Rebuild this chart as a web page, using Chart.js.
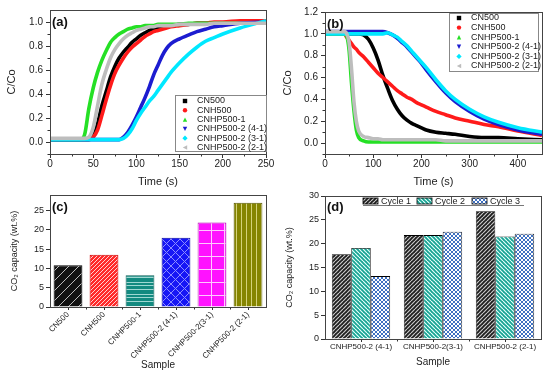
<!DOCTYPE html>
<html>
<head>
<meta charset="utf-8">
<script src="https://cdn.jsdelivr.net/npm/chart.js@4.4.1/dist/chart.umd.min.js"></script>
<style>
  html, body { margin: 0; padding: 0; background: #fff; }
  #fig { position: relative; width: 550px; height: 377px; overflow: hidden; }
  canvas { position: absolute; }
</style>
</head>
<body>
<div id="fig">
  <canvas id="chartA" width="275" height="190" style="left:0;top:0"></canvas>
  <canvas id="chartB" width="275" height="190" style="left:275px;top:0"></canvas>
  <canvas id="chartC" width="275" height="192" style="left:0;top:185px"></canvas>
  <canvas id="chartD" width="275" height="192" style="left:275px;top:185px"></canvas>
</div>
<script>
/* ---- data: (a) breakthrough ---- */
var timeA = [0, 30, 35, 40, 45, 50, 55, 60, 65, 70, 75, 80, 85, 90, 95, 100, 105, 110, 115, 120, 125, 130, 135, 140, 150, 160, 170, 180, 190, 200, 220, 250];
var cn500A = [0.02, 0.02, 0.02, 0.02, 0.02, 0.05, 0.15, 0.30, 0.42, 0.54, 0.63, 0.70, 0.75, 0.79, 0.83, 0.86, 0.89, 0.91, 0.93, 0.94, 0.95, 0.96, 0.97, 0.97, 0.98, 0.98, 0.99, 0.99, 0.99, 0.99, 1.00, 1.00];
var cnh500A = [0.02, 0.02, 0.02, 0.02, 0.02, 0.04, 0.10, 0.22, 0.35, 0.47, 0.57, 0.64, 0.70, 0.75, 0.79, 0.82, 0.85, 0.88, 0.90, 0.92, 0.93, 0.94, 0.95, 0.96, 0.97, 0.98, 0.99, 0.99, 1.00, 1.00, 1.01, 1.01];
var cnhp1A = [0.02, 0.02, 0.02, 0.06, 0.28, 0.45, 0.58, 0.68, 0.76, 0.83, 0.87, 0.90, 0.92, 0.94, 0.95, 0.96, 0.96, 0.97, 0.97, 0.97, 0.98, 0.98, 0.98, 0.98, 0.98, 0.99, 0.99, 0.99, 0.99, 0.99, 0.99, 0.99];
var cnhp41A = [0.02, 0.02, 0.02, 0.02, 0.02, 0.02, 0.02, 0.02, 0.02, 0.02, 0.02, 0.02, 0.04, 0.08, 0.14, 0.21, 0.29, 0.37, 0.46, 0.56, 0.64, 0.72, 0.78, 0.82, 0.86, 0.89, 0.92, 0.94, 0.96, 0.97, 0.99, 1.00];
var cnhp31A = [0.02, 0.02, 0.02, 0.02, 0.02, 0.02, 0.02, 0.02, 0.02, 0.02, 0.02, 0.02, 0.03, 0.06, 0.11, 0.18, 0.24, 0.29, 0.34, 0.38, 0.43, 0.48, 0.53, 0.58, 0.66, 0.73, 0.79, 0.84, 0.87, 0.90, 0.95, 1.01];
var cnhp21A = [0.03, 0.03, 0.03, 0.03, 0.04, 0.12, 0.30, 0.48, 0.60, 0.70, 0.77, 0.82, 0.86, 0.89, 0.91, 0.93, 0.94, 0.95, 0.96, 0.96, 0.97, 0.97, 0.97, 0.97, 0.98, 0.98, 0.98, 0.98, 0.99, 0.99, 0.99, 0.99];
var xTicksA = [0, 50, 100, 150, 200, 250];
var yTicksA = [0, 0.2, 0.4, 0.6, 0.8, 1.0];

/* ---- data: (b) desorption ---- */
var timeB = [0, 40, 45, 50, 55, 60, 65, 70, 80, 90, 100, 110, 120, 130, 140, 150, 160, 170, 180, 190, 200, 210, 230, 250, 270, 300, 330, 360, 400, 450];
var cn500B = [1.00, 1.00, 1.00, 1.00, 1.00, 1.00, 1.00, 1.00, 0.99, 0.95, 0.87, 0.76, 0.62, 0.50, 0.39, 0.31, 0.25, 0.21, 0.18, 0.16, 0.14, 0.12, 0.10, 0.09, 0.08, 0.06, 0.05, 0.05, 0.04, 0.03];
var cnh500B = [1.00, 1.00, 0.97, 0.94, 0.91, 0.88, 0.86, 0.83, 0.79, 0.74, 0.69, 0.64, 0.60, 0.56, 0.52, 0.48, 0.45, 0.42, 0.40, 0.37, 0.35, 0.33, 0.29, 0.26, 0.23, 0.20, 0.17, 0.15, 0.11, 0.07];
var cnhp1B = [1.00, 1.00, 0.98, 0.85, 0.55, 0.30, 0.12, 0.05, 0.02, 0.01, 0.01, 0.01, 0.01, 0.01, 0.01, 0.01, 0.01, 0.01, 0.01, 0.01, 0.01, 0.01, 0.01, 0.01, 0.01, 0.01, 0.01, 0.01, 0.01, 0.01];
var cnhp41B = [1.02, 1.02, 1.02, 1.02, 1.02, 1.02, 1.02, 1.02, 1.02, 1.02, 1.02, 1.02, 1.02, 1.01, 0.99, 0.96, 0.92, 0.88, 0.83, 0.78, 0.73, 0.67, 0.56, 0.46, 0.38, 0.29, 0.22, 0.17, 0.12, 0.08];
var cnhp31B = [1.00, 1.00, 1.00, 1.00, 1.00, 1.00, 1.00, 1.00, 1.00, 1.00, 1.00, 1.00, 1.00, 1.01, 0.99, 0.97, 0.93, 0.89, 0.84, 0.79, 0.74, 0.69, 0.58, 0.48, 0.40, 0.31, 0.24, 0.19, 0.14, 0.10];
var cnhp21B = [1.02, 1.02, 1.00, 0.92, 0.68, 0.38, 0.20, 0.11, 0.06, 0.05, 0.04, 0.04, 0.03, 0.03, 0.03, 0.03, 0.03, 0.03, 0.03, 0.03, 0.03, 0.03, 0.03, 0.02, 0.02, 0.02, 0.02, 0.02, 0.02, 0.02];
var xTicksB = [0, 100, 200, 300, 400];
var yTicksB = [0, 0.2, 0.4, 0.6, 0.8, 1.0, 1.2];

/* ---- data: (c) capacity ---- */
var samplesC = ["CN500", "CNH500", "CNHP500-1", "CNHP500-2 (4-1)", "CNHP500-2(3-1)", "CNHP500-2 (2-1)"];
var capacityC = [10.8, 13.5, 8.2, 17.9, 21.9, 27.0];
var yTicksC = [0, 5, 10, 15, 20, 25];

/* ---- data: (d) cycles ---- */
var samplesD = ["CNHP500-2 (4-1)", "CNHP500-2(3-1)", "CNHP500-2 (2-1)"];
var cycle1D = [17.8, 21.8, 26.8];
var cycle2D = [19.1, 21.8, 21.5];
var cycle3D = [13.2, 22.5, 22.1];
var yTicksD = [0, 5, 10, 15, 20, 25, 30];

var seriesNames = ["CN500", "CNH500", "CNHP500-1", "CNHP500-2 (4-1)", "CNHP500-2 (3-1)", "CNHP500-2 (2-1)"];
var seriesColors = ["#000000", "#ff1a1a", "#25e025", "#1c1cd0", "#00e8ff", "#bdbdbd"];
var seriesMarkers = ["square", "circle", "triUp", "triDown", "diamond", "triLeft"];

var FONT = '"Liberation Sans", Arial, sans-serif';
var INK = "#222";

/* ---- helpers ---- */
function fixedTicks(list) {
  return function (scale) {
    scale.ticks = list.map(function (v) { return { value: v }; });
  };
}

// minor ticks halfway between the major ones
function halfway(list) {
  var out = [];
  for (var i = 0; i < list.length - 1; i++) out.push((list[i] + list[i + 1]) / 2);
  return out;
}

function fitX(h) {
  return function (scale) {
    scale.height = h;
    scale.paddingLeft = 0;
    scale.paddingRight = 0;
  };
}

function fitY(w) {
  return function (scale) {
    scale.width = w;
    scale.paddingTop = 0;
    scale.paddingBottom = 0;
  };
}

function drawMarker(ctx, kind, x, y, r, color) {
  ctx.save();
  ctx.fillStyle = color;
  ctx.beginPath();
  if (kind === "square") {
    ctx.rect(x - r, y - r, 2 * r, 2 * r);
  } else if (kind === "circle") {
    ctx.arc(x, y, r, 0, Math.PI * 2);
  } else if (kind === "triUp") {
    ctx.moveTo(x, y - r); ctx.lineTo(x + r, y + r); ctx.lineTo(x - r, y + r);
  } else if (kind === "triDown") {
    ctx.moveTo(x, y + r); ctx.lineTo(x + r, y - r); ctx.lineTo(x - r, y - r);
  } else if (kind === "diamond") {
    ctx.moveTo(x, y - r * 1.2); ctx.lineTo(x + r * 1.2, y); ctx.lineTo(x, y + r * 1.2); ctx.lineTo(x - r * 1.2, y);
  } else if (kind === "triLeft") {
    ctx.moveTo(x - r, y); ctx.lineTo(x + r, y - r); ctx.lineTo(x + r, y + r);
  }
  ctx.closePath();
  ctx.fill();
  ctx.restore();
}

function makePattern(bg, fg, kind, size, lw) {
  var c = document.createElement("canvas");
  c.width = size;
  c.height = size;
  var g = c.getContext("2d");
  g.fillStyle = bg;
  g.fillRect(0, 0, size, size);
  g.strokeStyle = fg;
  g.fillStyle = fg;
  g.lineWidth = lw || 1;
  var k;
  if (kind === "up" || kind === "cross") {
    for (k = -1; k <= 1; k++) {
      g.beginPath(); g.moveTo(k * size, size); g.lineTo(k * size + size, 0); g.stroke();
    }
  }
  if (kind === "down" || kind === "cross") {
    for (k = -1; k <= 1; k++) {
      g.beginPath(); g.moveTo(k * size, 0); g.lineTo(k * size + size, size); g.stroke();
    }
  }
  if (kind === "horiz") {
    [1.5, 4.5, 8.5].forEach(function (yy) {
      g.beginPath(); g.moveTo(0, yy); g.lineTo(size, yy); g.stroke();
    });
  }
  if (kind === "grid") {
    g.beginPath(); g.moveTo(3.5, 0); g.lineTo(3.5, size); g.stroke();
    g.beginPath(); g.moveTo(0, 6.5); g.lineTo(size, 6.5); g.stroke();
  }
  if (kind === "vert") {
    g.beginPath(); g.moveTo(1.5, 0); g.lineTo(1.5, size); g.stroke();
  }
  if (kind === "checker") {
    var h = size / 2;
    g.fillRect(0, 0, h, h);
    g.fillRect(h, h, h, h);
  }
  return c.getContext("2d").createPattern(c, "repeat");
}

/* frame around plot area, short minor ticks, panel letter */
var framePlugin = {
  id: "frame",
  afterDraw: function (chart, args, opts) {
    var a = chart.chartArea;
    var ctx = chart.ctx;
    ctx.save();
    ctx.strokeStyle = "#333";
    ctx.lineWidth = 1;
    (opts.minorX || []).forEach(function (v) {
      var px = Math.round(chart.scales.x.getPixelForValue(v)) + 0.5;
      ctx.beginPath(); ctx.moveTo(px, a.bottom); ctx.lineTo(px, a.bottom + 2.5); ctx.stroke();
    });
    (opts.minorY || []).forEach(function (v) {
      var py = Math.round(chart.scales.y.getPixelForValue(v)) + 0.5;
      ctx.beginPath(); ctx.moveTo(a.left, py); ctx.lineTo(a.left - 2.5, py); ctx.stroke();
    });
    ctx.strokeStyle = "#444";
    ctx.strokeRect(Math.round(a.left) + 0.5, Math.round(a.top) + 0.5, Math.round(a.right - a.left), Math.round(a.bottom - a.top));
    if (opts.letter) {
      ctx.fillStyle = "#111";
      ctx.font = "bold 13px " + FONT;
      ctx.textBaseline = "alphabetic";
      ctx.fillText(opts.letter, a.left + 2, a.top + opts.letterDy);
    }
    ctx.restore();
  }
};

/* boxed legend inside the plot for the curve panels */
var curveLegendPlugin = {
  id: "curveLegend",
  afterDraw: function (chart, args, opts) {
    if (!opts.box) return;
    var ctx = chart.ctx;
    var b = opts.box;
    ctx.save();
    ctx.fillStyle = "#fff";
    ctx.fillRect(b[0], b[1], b[2], b[3]);
    ctx.strokeStyle = "#888";
    ctx.lineWidth = 1;
    ctx.strokeRect(b[0] + 0.5, b[1] + 0.5, b[2], b[3]);
    ctx.font = "9px " + FONT;
    ctx.textBaseline = "middle";
    chart.data.datasets.forEach(function (ds, i) {
      var y = b[1] + opts.first + i * opts.row;
      drawMarker(ctx, ds.marker, b[0] + opts.markX, y, 2.2, ds.borderColor);
      ctx.fillStyle = "#222";
      ctx.fillText(ds.label, b[0] + opts.textX, y);
    });
    ctx.restore();
  }
};

/* one-row legend with pattern swatches for panel (d) */
var barLegendPlugin = {
  id: "barLegend",
  afterDraw: function (chart, args, opts) {
    if (!opts.items) return;
    var ctx = chart.ctx;
    ctx.save();
    ctx.font = "9px " + FONT;
    ctx.textBaseline = "middle";
    chart.data.datasets.forEach(function (ds, i) {
      var x = opts.items[i];
      ctx.fillStyle = ds.backgroundColor;
      ctx.fillRect(x, opts.y - 3, 15, 6);
      ctx.strokeStyle = "#000";
      ctx.lineWidth = 0.8;
      ctx.strokeRect(x, opts.y - 3, 15, 6);
      ctx.fillStyle = "#222";
      ctx.fillText(ds.label, x + 18, opts.y + 0.5);
    });
    ctx.strokeStyle = "#555";
    ctx.beginPath();
    ctx.moveTo(opts.items[0], opts.y + 4.5);
    ctx.lineTo(opts.underlineEnd, opts.y + 4.5);
    ctx.stroke();
    ctx.restore();
  }
};

function tickFont(size) {
  return { family: FONT, size: size };
}

function curveDatasets(times, seriesList) {
  return seriesList.map(function (vals, i) {
    return {
      label: seriesNames[i],
      data: times.map(function (t, j) { return { x: t, y: vals[j] }; }),
      borderColor: seriesColors[i],
      backgroundColor: seriesColors[i],
      marker: seriesMarkers[i],
      borderWidth: 3.6,
      pointRadius: 0,
      cubicInterpolationMode: "monotone",
      order: seriesList.length - i
    };
  });
}

function curveChart(id, datasets, cfg) {
  return new Chart(document.getElementById(id), {
    type: "line",
    data: { datasets: datasets },
    plugins: [framePlugin, curveLegendPlugin],
    options: {
      responsive: false,
      animation: false,
      layout: { padding: cfg.padding },
      scales: {
        x: {
          type: "linear",
          min: 0,
          max: cfg.xMax,
          afterBuildTicks: fixedTicks(cfg.xTicks),
          afterFit: fitX(36),
          ticks: { font: tickFont(10), color: INK, padding: 0, maxRotation: 0 },
          grid: { drawOnChartArea: false, tickLength: 4, color: "#333" },
          border: { display: false },
          title: { display: true, text: "Time (s)", color: INK, font: tickFont(11), padding: { top: 0, bottom: 1.5 } }
        },
        y: {
          min: -0.1,
          max: cfg.yMax,
          afterBuildTicks: fixedTicks(cfg.yTicks),
          afterFit: fitY(50),
          ticks: {
            font: tickFont(10),
            color: INK,
            padding: 3,
            callback: function (v) { return Number(v).toFixed(1); }
          },
          grid: { drawOnChartArea: false, tickLength: 4, color: "#333" },
          border: { display: false },
          title: { display: true, text: "C/Co", color: INK, font: tickFont(11), padding: { top: cfg.yTitlePad, bottom: 0 } }
        }
      },
      plugins: {
        legend: { display: false },
        tooltip: { enabled: false },
        frame: {
          letter: cfg.letter,
          letterDy: 16,
          minorX: halfway(cfg.xTicks.concat([cfg.xTicks[cfg.xTicks.length - 1] * 2 - cfg.xTicks[cfg.xTicks.length - 2]])).filter(function (v) { return v < cfg.xMax; }),
          minorY: [-0.1].concat(halfway(cfg.yTicks)).concat([cfg.yTicks[cfg.yTicks.length - 1] + 0.1]).filter(function (v) { return v < cfg.yMax; })
        },
        curveLegend: cfg.legend
      }
    }
  });
}

/* ---- (a) ---- */
curveChart("chartA", curveDatasets(timeA, [cn500A, cnh500A, cnhp1A, cnhp41A, cnhp31A, cnhp21A]), {
  padding: { left: 0, right: 9, top: 10, bottom: 0 },
  xMax: 250,
  xTicks: xTicksA,
  yMax: 1.1,
  yTicks: yTicksA,
  yTitlePad: 5.5,
  letter: "(a)",
  legend: { box: [175, 95, 91, 56], first: 6, row: 9.3, markX: 10, textX: 22 }
});

/* ---- (b) ---- */
curveChart("chartB", curveDatasets(timeB, [cn500B, cnh500B, cnhp1B, cnhp41B, cnhp31B, cnhp21B]), {
  padding: { left: 0, right: 8, top: 12, bottom: 0 },
  xMax: 450,
  xTicks: xTicksB,
  yMax: 1.2,
  yTicks: yTicksB,
  yTitlePad: 6.4,
  letter: "(b)",
  legend: { box: [174, 13, 89, 58], first: 5, row: 9.6, markX: 10, textX: 22 }
});

/* ---- (c) ---- */
var patternsC = [
  makePattern("#111111", "#bbbbbb", "up", 10, 1),
  makePattern("#ff2a2a", "#ffd0d0", "up", 4, 1),
  makePattern("#138a80", "#9fd8d2", "horiz", 12, 1),
  makePattern("#1616f5", "#8c8cff", "cross", 9, 1),
  makePattern("#ff12ff", "#ffc8ff", "grid", 13, 1),
  makePattern("#858500", "#d4d27a", "vert", 5, 1)
];

new Chart(document.getElementById("chartC"), {
  type: "bar",
  data: {
    labels: samplesC,
    datasets: [{
      label: "CO2 capacity",
      data: capacityC,
      backgroundColor: patternsC,
      borderColor: ["#000", "#c00", "#0b5f58", "#0000a0", "#b000b0", "#555500"],
      borderWidth: 1,
      barPercentage: 0.8,
      categoryPercentage: 1.0
    }]
  },
  plugins: [framePlugin],
  options: {
    responsive: false,
    animation: false,
    layout: { padding: { left: 0, right: 9, top: 10, bottom: 0 } },
    scales: {
      x: {
        afterFit: fitX(70),
        ticks: { font: tickFont(8), color: INK, padding: 0, minRotation: 45, maxRotation: 45, autoSkip: false },
        grid: { drawOnChartArea: false, tickLength: 3, color: "#333", offset: false },
        border: { display: false },
        title: { display: true, text: "Sample", color: INK, font: tickFont(10), padding: { top: 0, bottom: 6 } }
      },
      y: {
        min: 0,
        max: 29,
        afterBuildTicks: fixedTicks(yTicksC),
        afterFit: fitY(50),
        ticks: { font: tickFont(9), color: INK, padding: 2 },
        grid: { drawOnChartArea: false, tickLength: 4, color: "#333" },
        border: { display: false },
        title: { display: true, text: "CO\u2082 capacity (wt.%)", color: INK, font: tickFont(9), padding: { top: 9.6, bottom: 0 } }
      }
    },
    plugins: {
      legend: { display: false },
      tooltip: { enabled: false },
      frame: { letter: "(c)", letterDy: 16, minorX: [0.5, 1.5, 2.5, 3.5, 4.5] }
    }
  }
});

/* ---- (d) ---- */
new Chart(document.getElementById("chartD"), {
  type: "bar",
  data: {
    labels: samplesD,
    datasets: [
      { label: "Cycle 1", data: cycle1D, backgroundColor: makePattern("#1e1e1e", "#c8c8c8", "up", 4, 1.2) },
      { label: "Cycle 2", data: cycle2D, backgroundColor: makePattern("#17a393", "#e6fffb", "down", 4, 1.2) },
      { label: "Cycle 3", data: cycle3D, backgroundColor: makePattern("#3e70c2", "#ffffff", "checker", 4) }
    ].map(function (ds) {
      ds.borderColor = "#000";
      ds.borderWidth = 0.8;
      ds.barPercentage = 1.0;
      ds.categoryPercentage = 0.81;
      return ds;
    })
  },
  plugins: [framePlugin, barLegendPlugin],
  options: {
    responsive: false,
    animation: false,
    layout: { padding: { left: 0, right: 9, top: 11, bottom: 0 } },
    scales: {
      x: {
        afterFit: fitX(38),
        ticks: { font: tickFont(8), color: INK, padding: 0, maxRotation: 0, autoSkip: false },
        grid: { drawOnChartArea: false, tickLength: 3, color: "#333", offset: false },
        border: { display: false },
        title: { display: true, text: "Sample", color: INK, font: tickFont(10), padding: { top: 0, bottom: 9 } }
      },
      y: {
        min: 0,
        max: 30,
        afterBuildTicks: fixedTicks(yTicksD),
        afterFit: fitY(50),
        ticks: { font: tickFont(9), color: INK, padding: 2 },
        grid: { drawOnChartArea: false, tickLength: 4, color: "#333" },
        border: { display: false },
        title: { display: true, text: "CO\u2082 capacity (wt.%)", color: INK, font: tickFont(9), padding: { top: 9.6, bottom: 0 } }
      }
    },
    plugins: {
      legend: { display: false },
      tooltip: { enabled: false },
      frame: { letter: "(d)", letterDy: 15, minorX: [0.5, 1.5] },
      barLegend: { items: [88, 142, 197], y: 16, underlineEnd: 249 }
    }
  }
});
</script>
</body>
</html>
